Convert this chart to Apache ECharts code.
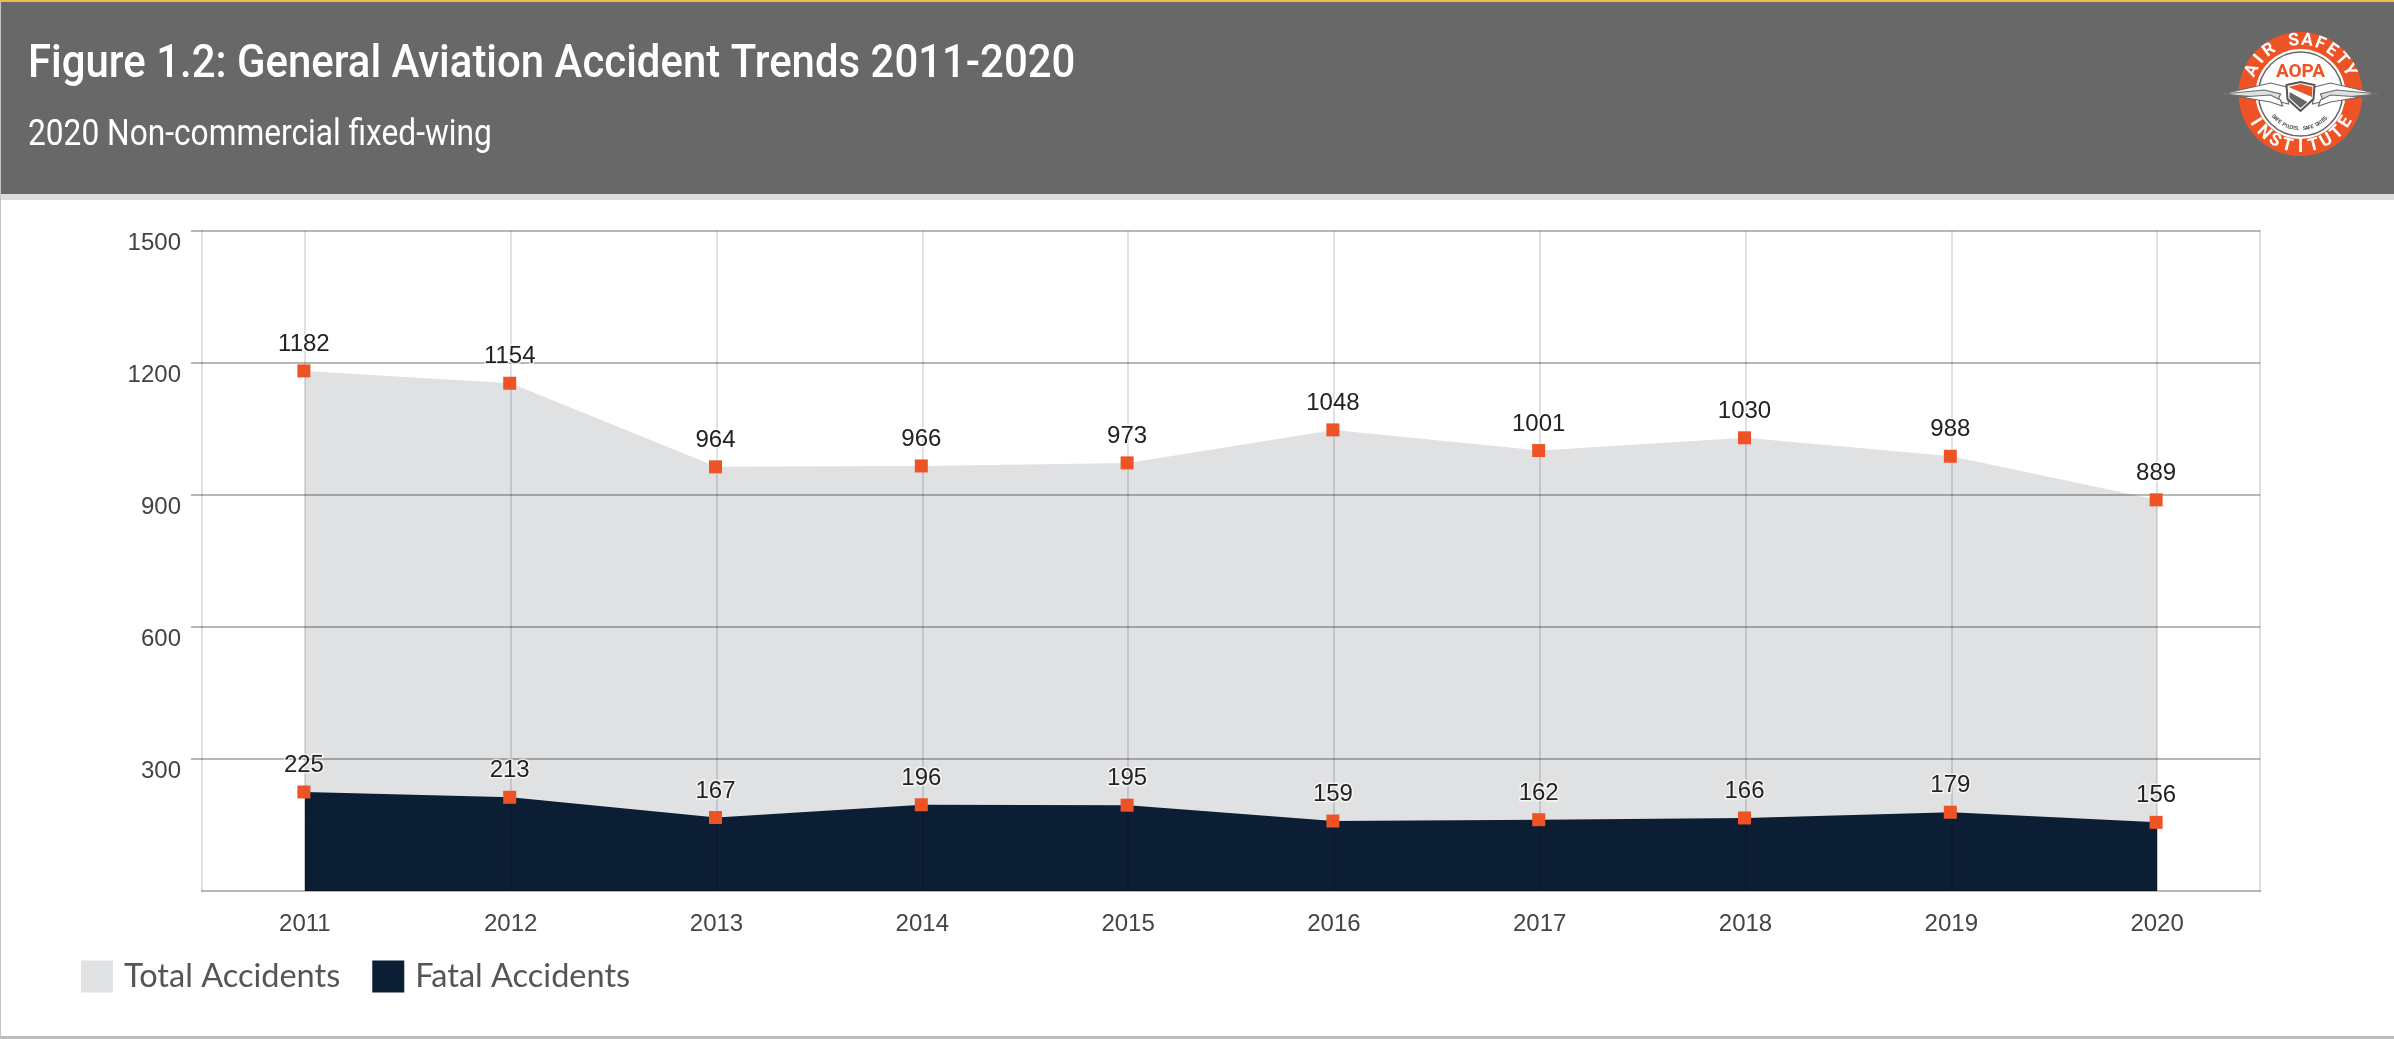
<!DOCTYPE html>
<html>
<head>
<meta charset="utf-8">
<style>html,body{margin:0;padding:0;background:#fff}#c{width:2394px;height:1039px}</style>
<script src="https://cdn.jsdelivr.net/npm/echarts@6/dist/echarts.min.js"></script>
</head>
<body>
<div id="c"></div>
<script>
const years = ['2011','2012','2013','2014','2015','2016','2017','2018','2019','2020'];
const totalAccidents = [1182,1154,964,966,973,1048,1001,1030,988,889];
const fatalAccidents = [225,213,167,196,195,159,162,166,179,156];
const yTicks = [300,600,900,1200,1500];
const titleText = 'Figure 1.2: General Aviation Accident Trends 2011-2020';
const subtitleText = '2020 Non-commercial fixed-wing';

const ORANGE = '#ee5326', NAVY = '#0c1e33', GREY = '#e0e1e3';
const gridH = 'rgba(0,0,0,0.28)', gridV = 'rgba(0,0,0,0.12)';
const helv = '"Liberation Sans", Arial, sans-serif';

function logo(cx, cy) {
  const out = [];
  const txt = (t, x, y, size, color, rot, weight) => out.push({type:'text', x, y, rotation: rot||0, z:21,
    style:{text:t, fill:color, font:(weight||'bold')+' '+size+'px Roboto, sans-serif', align:'center', verticalAlign:'middle'}});
  out.push({type:'circle', z:20, shape:{cx,cy,r:62}, style:{fill:ORANGE}});
  out.push({type:'circle', z:20, shape:{cx,cy,r:45}, style:{fill:'#fff'}});
  out.push({type:'circle', z:20, shape:{cx,cy,r:42}, style:{fill:'none', stroke:'#666', lineWidth:1.5}});
  const top = 'AIR SAFETY', bot = 'INSTITUTE';
  for (let i=0;i<top.length;i++){ if(top[i]===' ')continue;
    const a=(-64+128*i/(top.length-1))*Math.PI/180;
    txt(top[i], cx+53.5*Math.sin(a), cy-53.5*Math.cos(a), 17.5, '#fff', -a);
  }
  for (let i=0;i<bot.length;i++){
    const a=(-58+116*i/(bot.length-1))*Math.PI/180;
    txt(bot[i], cx+53.5*Math.sin(a), cy+53.5*Math.cos(a), 17.5, '#fff', a);
  }
  txt('AOPA', cx, cy-22, 19, ORANGE, 0, 'bold');
  const tag='SAFE PILOTS. SAFE SKIES.';
  for (let i=0;i<tag.length;i++){ if(tag[i]===' ')continue;
    const a=(-50+100*i/(tag.length-1))*Math.PI/180;
    txt(tag[i], cx+35*Math.sin(a), cy+35*Math.cos(a), 5.5, '#555', a);
  }
  // wings
  [-1,1].forEach(s=>{
    const P=(arr)=>arr.map(p=>[cx+s*p[0], cy+p[1]]);
    [[[78,0],[30,-11],[14,-7],[12,10],[24,7]],
     [[78,0],[36,-4],[20,0],[22,5]],
     [[60,3],[30,1],[20,6],[18,12],[30,8]]].forEach((pts,i)=>{
      out.push({type:'polygon', z:22, shape:{points:P(pts)},
        style:{fill:i===1?'#dfe0e1':'#fff', stroke:'#6a6a6a', lineWidth:1.2}});
    });
  });
  out.push({type:'polygon', z:23, shape:{points:[[cx-14,cy-9],[cx,cy-12],[cx+14,cy-9],[cx+13,cy+5],[cx,cy+17],[cx-13,cy+5]]}, style:{fill:'#fff',stroke:'#555',lineWidth:2}});
  out.push({type:'polygon', z:24, shape:{points:[[cx-12,cy-7],[cx,cy-10],[cx+12,cy-7],[cx+11.5,cy+3]]}, style:{fill:ORANGE}});
  out.push({type:'polygon', z:24, shape:{points:[[cx-11,cy-2],[cx+7,cy+8],[cx,cy+14],[cx-11,cy+4]]}, style:{fill:'#666'}});
  return out;
}

const option = {
  animation:false,
  backgroundColor:'#fff',
  textStyle:{fontFamily:helv},
  legend:{
    left:81, top:960, padding:0, itemWidth:32, itemHeight:32, itemGap:32, icon:'rect',
    data:[{name:'Total Accidents',itemStyle:{color:GREY}},{name:'Fatal Accidents',itemStyle:{color:NAVY}}],
    textStyle:{fontFamily:'Lato, sans-serif',fontSize:32.5,color:'#555',padding:[9,0,0,6]},
    selectedMode:false
  },
  grid:{left:202,right:134,top:231,bottom:148,containLabel:false},
  xAxis:{
    type:'category', data:years, boundaryGap:true, z:3,
    axisTick:{show:false},
    axisLine:{show:true,lineStyle:{color:gridH,width:2}},
    axisLabel:{fontSize:24,color:'#444',margin:21,fontFamily:helv},
    splitLine:{show:true,alignWithLabel:true,lineStyle:{color:gridV,width:2}}
  },
  yAxis:[{
    type:'value',min:0,max:1500,interval:300,z:3,
    axisLine:{show:true,onZero:false,lineStyle:{color:gridV,width:2}},
    axisTick:{show:true,length:11,customValues:yTicks,lineStyle:{color:gridH,width:2}},
    axisLabel:{fontSize:24,color:'#444',margin:21,verticalAlign:'top',fontFamily:helv,customValues:yTicks,formatter:v=>String(v)},
    splitLine:{show:true,lineStyle:{color:gridH,width:2}}
  },{
    type:'value',min:0,max:1500,interval:300,position:'right',z:3,
    axisLine:{show:true,onZero:false,lineStyle:{color:gridV,width:2}},
    axisTick:{show:false},axisLabel:{show:false},splitLine:{show:false}
  }],
  series:[
    {name:'Total Accidents',type:'line',z:2,data:totalAccidents,symbol:'none',lineStyle:{width:0},itemStyle:{color:GREY},areaStyle:{color:GREY,opacity:1}},
    {name:'Fatal Accidents',type:'line',z:2,data:fatalAccidents,symbol:'none',lineStyle:{width:0},itemStyle:{color:NAVY},areaStyle:{color:NAVY,opacity:1}},
    ...[['Total points',totalAccidents],['Fatal points',fatalAccidents]].map(([n,d])=>({
      name:n,type:'line',z:5,data:d,symbol:'rect',symbolSize:13,symbolOffset:[-1,0],showAllSymbol:true,
      lineStyle:{width:0,opacity:0},itemStyle:{color:ORANGE},
      label:{show:true,position:'top',distance:8,fontSize:24,color:'#222',fontFamily:helv,
        textBorderColor:'rgba(255,255,255,0.65)',textBorderWidth:3}
    }))
  ],
  graphic:{elements:[
    {type:'rect',z:10,shape:{x:0,y:0,width:2394,height:2},style:{fill:'#f0b955'}},
    {type:'rect',z:10,shape:{x:0,y:2,width:2394,height:192},style:{fill:'#686868'}},
    {type:'rect',z:10,shape:{x:0,y:194,width:2394,height:6},style:{fill:'#dddddd'}},
    {type:'rect',z:10,shape:{x:0,y:2,width:1,height:1037},style:{fill:'#c4c4c4'}},
    {type:'rect',z:10,shape:{x:0,y:1036,width:2394,height:3},style:{fill:'#bdbdbd'}},
    {type:'text',z:11,x:28,y:65,scaleX:0.892,style:{text:titleText,fill:'#fff',font:'500 47px Roboto, sans-serif',align:'left',verticalAlign:'middle'}},
    {type:'text',z:11,x:28,y:136,scaleX:0.88,style:{text:subtitleText,fill:'#fff',font:'400 36px Roboto, sans-serif',align:'left',verticalAlign:'middle'}},
    ...logo(2300.5,94)
  ]}
};
echarts.init(document.getElementById('c')).setOption(option);
</script>
</body>
</html>
